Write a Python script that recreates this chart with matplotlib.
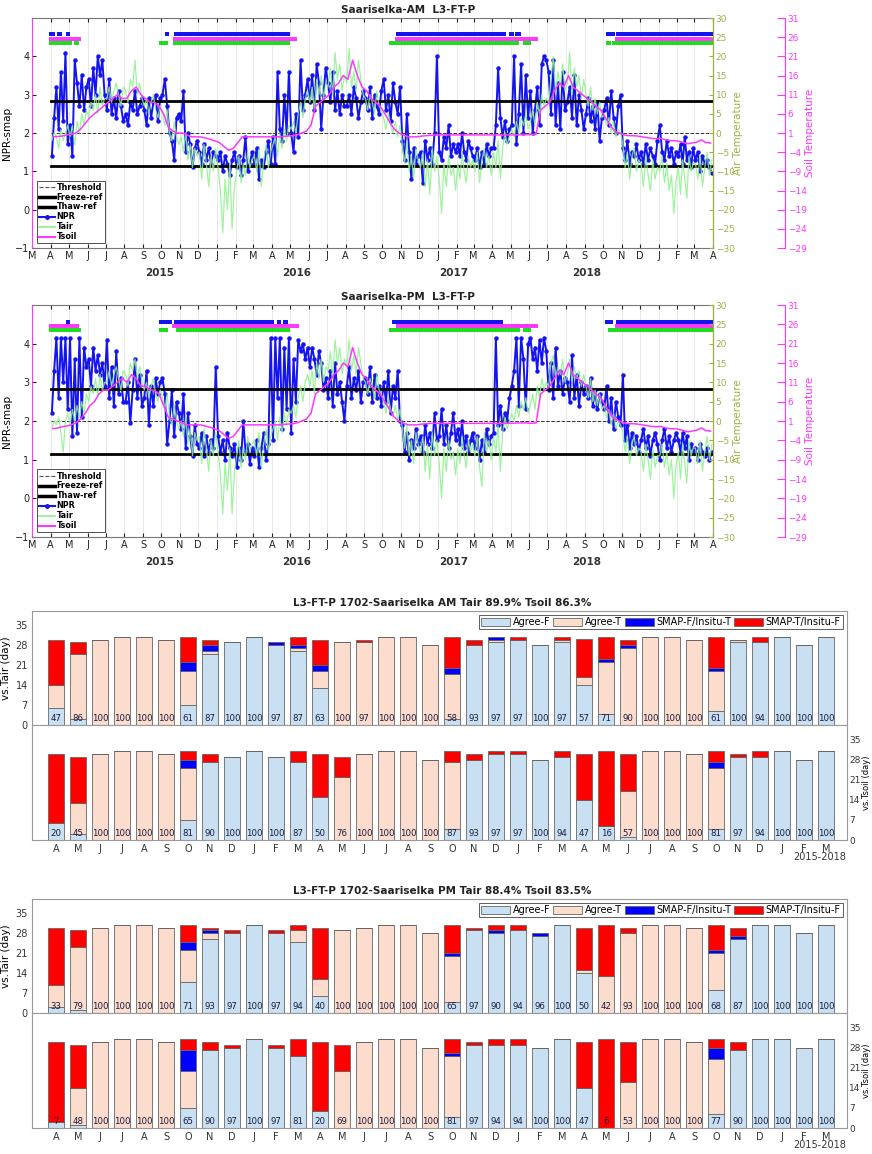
import numpy as np
import pandas as pd
import matplotlib
matplotlib.use('Agg')
import matplotlib.pyplot as plt
import matplotlib.dates as mdates
from matplotlib.lines import Line2D
from matplotlib.ticker import FuncFormatter

W, H = 872, 1154
fig = plt.figure(figsize=(W / 100, H / 100), dpi=100)
plt.rcParams['font.family'] = ['DejaVu Sans']


def rect(l, t, r, b):
    # pixel box -> figure fraction
    return [l / W, 1 - b / H, (r - l) / W, (b - t) / H]


# ---------------- time series data (Apr 2015 .. Mar 2018, one row per month) ----------------
FIRST_MONTH = '2015-04-01'
freeze_ref = 1.15
thaw_ref = 2.83
threshold = 2.0

am_npr = [
    [1.4, 2.4, 3.2, 2.1, 3.6, 2.3, 4.1, 1.7], [2.2, 1.4, 3.9, 3.3, 2.7, 3.5, 2.6, 3.2],
    [3.4, 2.7, 3.7, 3.0, 4.0, 3.5, 3.9, 3.0], [2.6, 3.4, 2.5, 2.9, 2.4, 3.1, 2.7, 2.3],
    [2.5, 2.2, 2.8, 2.6, 3.1, 2.5, 2.7, 2.9], [2.6, 2.2, 2.9, 2.4, 2.8, 3.0, 2.3, 2.9],
    [3.0, 3.4, 2.7, 2.0, 1.8, 1.3, 2.4, 2.5], [2.3, 3.1, 1.5, 2.0, 1.7, 1.1, 1.6, 1.8],
    [1.5, 1.2, 1.7, 1.3, 1.6, 1.2, 1.5, 1.4], [1.3, 1.5, 1.0, 1.4, 1.2, 0.9, 1.3, 1.5],
    [1.1, 1.4, 0.9, 1.3, 1.9, 1.0, 1.2, 1.5], [1.2, 1.6, 0.8, 1.3, 1.1, 1.5, 1.8, 1.2],
    [1.9, 1.2, 3.6, 2.1, 1.8, 3.0, 2.0, 3.6], [2.0, 1.5, 2.5, 1.9, 3.9, 2.6, 3.0, 3.4],
    [2.8, 3.5, 2.6, 3.8, 3.3, 2.1, 3.0, 3.7], [3.3, 2.8, 3.6, 2.6, 3.1, 2.5, 3.0, 2.7],
    [2.7, 3.0, 2.5, 3.2, 2.9, 2.4, 2.8, 3.1], [2.9, 2.6, 3.2, 2.4, 3.0, 2.7, 2.5, 3.1],
    [3.4, 2.6, 3.0, 2.3, 3.3, 2.8, 2.5, 3.2], [1.8, 1.3, 2.5, 1.5, 0.8, 1.6, 1.2, 1.4],
    [1.5, 0.7, 1.8, 1.3, 1.6, 1.2, 2.0, 4.0], [1.5, 1.3, 1.9, 1.6, 2.2, 1.4, 1.7, 1.5],
    [1.7, 1.4, 2.0, 1.5, 1.3, 1.8, 1.6, 1.4], [1.3, 1.6, 1.1, 1.5, 1.2, 1.7, 1.4, 1.6],
    [1.6, 2.2, 3.7, 2.4, 1.9, 2.3, 1.8, 2.1], [2.2, 4.0, 1.7, 2.5, 3.8, 2.0, 3.5, 2.4],
    [3.1, 2.0, 2.6, 3.2, 2.2, 3.8, 4.0, 3.9], [3.6, 2.5, 3.9, 2.2, 3.3, 2.1, 3.6, 2.6],
    [2.8, 3.2, 2.4, 3.5, 2.2, 3.0, 2.6, 2.1], [2.5, 2.9, 2.3, 2.7, 2.1, 2.8, 1.8, 2.4],
    [2.6, 2.9, 2.2, 3.1, 2.4, 2.0, 2.7, 3.0], [1.6, 1.3, 1.8, 1.2, 1.5, 1.4, 1.7, 1.3],
    [1.5, 1.2, 1.7, 1.3, 1.6, 1.4, 1.2, 1.8], [2.2, 1.5, 1.3, 1.8, 1.4, 1.6, 1.2, 1.5],
    [1.4, 1.7, 1.2, 1.9, 1.3, 1.5, 1.1, 1.6], [1.3, 1.5, 1.0, 1.4, 1.2, 1.3, 1.1, 0.95],
]
am_tair = [
    [-2, 0, -1, -4, 1, -2, 0, 2], [-1, 2, -3, 3, 0, 5, 2, 6], [4, 8, 6, 10, 5, 12, 7, 9],
    [9, 12, 8, 11, 13, 10, 7, 12], [11, 8, 14, 12, 19, 10, 13, 9], [7, 9, 5, 8, 10, 6, 4, 7],
    [5, 2, 6, 0, -2, 3, -1, -3], [-1, -5, 0, -7, -3, -9, -4, -6], [-5, -12, -3, -8, -14, -6, -10, -4],
    [-9, -15, -26, -12, -20, -8, -25, -14], [-10, -6, -13, -8, -11, -5, -9, -7], [-6, -10, -4, -14, -7, -3, -9, -5],
    [-3, -1, -6, 0, -4, 1, -2, 2], [1, 3, 0, 5, 8, 4, 9, 11], [8, 12, 6, 14, 10, 15, 9, 13],
    [12, 17, 10, 21, 14, 18, 11, 15], [13, 22, 12, 16, 11, 19, 14, 10], [9, 6, 10, 8, 5, 11, 7, 6],
    [4, 1, 5, 2, 0, 3, -1, 2], [-3, -8, -2, -10, -6, -12, -4, -7], [-9, -5, -14, -7, -16, -4, -10, -6],
    [-12, -21, -8, -14, -6, -11, -9, -15], [-8, -12, -5, -10, -13, -6, -9, -7], [-10, -5, -13, -7, -4, -9, -6, -11],
    [-5, -9, -2, -12, -4, 0, -3, -1], [1, -1, 3, 0, 4, 2, 5, 1], [3, 6, 2, 8, 5, 10, 7, 9],
    [8, 14, 20, 10, 16, 12, 18, 11], [13, 21, 10, 17, 12, 15, 9, 14], [10, 7, 12, 6, 9, 5, 8, 4],
    [5, 2, 4, 0, 3, -1, 1, 0], [-3, -9, -5, -12, -6, -4, -10, -7], [-8, -14, -6, -11, -15, -7, -12, -9],
    [-10, -6, -13, -8, -15, -11, -21, -12], [-9, -16, -7, -12, -17, -6, -10, -8], [-8, -12, -6, -14, -9, -5, -11, -7],
]
am_tsoil = [
    [0.0, 0.1, 0.2, 0.5], [0.6, 1.0, 2.0, 3.5], [5, 6, 7, 8], [9, 10, 11, 10], [10, 12, 13, 11],
    [10, 9, 9, 8], [6, 2.5, 1.5, 1.0], [1.0, 0.5, 0.0, 0.0], [0.0, -0.3, -0.6, -1.0],
    [-1.5, -2.5, -3.5, -3.0], [-1.5, 0.0, 0.0, 0.0], [0.0, 0.0, 0.0, 0.0], [0.0, 0.0, 0.1, 0.2],
    [0.3, 0.5, 1.0, 1.5], [3, 8, 9, 10], [11, 13, 14, 16], [15, 20, 16, 13], [12, 10, 9, 8],
    [6, 4, 2, 1], [0.5, 0.0, 0.0, 0.0], [0.2, 0.3, 0.4, 0.5], [0.5, 0.5, 0.5, 0.5],
    [0.5, 0.5, 0.5, 0.5], [0.5, 0.5, 0.5, 0.5], [0.5, 0.5, 0.5, 0.5], [0.5, 0.5, 0.6, 0.6],
    [0.6, 0.7, 7, 8], [9, 12, 14, 13], [16, 13, 12, 11], [10, 9, 8, 7], [5, 3, 1.5, 1.0],
    [0.5, 0.3, 0.3, 0.2], [0.0, -0.2, -0.4, -0.5], [-0.4, -0.8, -1.0, -1.0],
    [-1.2, -1.5, -1.8, -1.6], [-1.4, -0.8, -1.5, -1.6],
]

pm_npr = [
    [2.2, 3.3, 4.15, 2.6, 4.15, 3.0, 4.15, 2.3], [4.15, 1.6, 3.6, 1.7, 4.15, 2.1, 3.9, 3.4],
    [3.6, 2.9, 3.9, 3.3, 3.7, 3.2, 3.5, 2.9], [4.1, 2.6, 3.4, 2.4, 3.8, 2.7, 3.1, 2.5],
    [2.5, 3.0, 1.95, 2.8, 3.6, 2.6, 3.2, 2.4], [2.6, 3.3, 1.9, 2.9, 2.4, 3.1, 2.7, 3.0],
    [3.1, 2.7, 1.4, 2.0, 2.8, 1.6, 2.5, 2.2], [1.8, 2.7, 1.3, 2.2, 1.6, 1.1, 1.9, 1.4],
    [1.3, 1.7, 1.1, 1.6, 1.2, 1.5, 1.3, 3.4], [1.6, 1.2, 1.5, 1.0, 1.7, 1.3, 1.1, 1.4],
    [0.8, 1.3, 1.0, 2.0, 1.2, 1.4, 0.9, 1.3], [1.1, 1.5, 0.8, 1.3, 1.7, 1.0, 1.4, 4.15],
    [1.5, 4.15, 2.6, 4.15, 1.8, 3.9, 2.3, 4.15], [1.7, 3.6, 2.5, 4.1, 3.8, 4.0, 3.6, 3.9],
    [3.4, 3.9, 3.6, 3.2, 3.8, 3.5, 2.8, 3.1], [2.6, 3.3, 2.4, 3.5, 2.7, 3.0, 2.5, 2.0],
    [2.9, 3.4, 2.6, 3.1, 2.8, 3.3, 2.5, 3.0], [3.1, 2.7, 3.4, 2.5, 3.2, 2.6, 2.9, 2.4],
    [3.0, 2.5, 3.3, 2.2, 2.9, 2.6, 3.3, 2.0], [1.9, 1.2, 1.7, 1.0, 1.5, 1.3, 1.8, 1.4],
    [1.6, 1.2, 1.9, 1.4, 1.7, 1.3, 2.2, 1.5], [1.6, 2.3, 1.4, 1.9, 1.3, 1.7, 2.2, 1.5],
    [1.8, 1.4, 2.0, 1.3, 1.6, 1.2, 1.5, 1.7], [1.3, 1.6, 1.0, 1.5, 1.2, 1.8, 1.4, 1.6],
    [1.7, 4.15, 1.9, 2.4, 1.8, 2.2, 2.0, 2.6], [2.9, 3.3, 4.15, 2.4, 4.15, 3.6, 2.3, 4.0],
    [4.15, 3.6, 3.9, 3.3, 4.1, 3.5, 4.15, 3.8], [2.8, 3.5, 2.6, 3.9, 2.9, 3.3, 2.7, 3.1],
    [3.0, 2.5, 3.7, 2.6, 3.2, 2.4, 3.0, 2.7], [2.9, 2.6, 3.1, 2.4, 2.8, 2.3, 2.7, 2.5],
    [2.3, 2.9, 2.0, 2.6, 1.8, 2.5, 2.1, 1.9], [3.2, 1.5, 1.9, 1.3, 1.7, 1.4, 1.6, 1.2],
    [1.5, 1.8, 1.3, 1.6, 1.1, 1.5, 1.7, 1.4], [1.0, 1.5, 1.8, 1.3, 1.6, 1.2, 1.5, 1.7],
    [1.5, 1.2, 1.7, 1.3, 1.6, 1.0, 1.4, 1.2], [1.3, 1.0, 1.4, 1.2, 1.1, 1.3, 1.0, 1.2],
]
pm_tair = [
    [-2, 0, -1, 1, -3, -8, 0, 2], [-1, 3, 0, 4, 1, 5, 2, 7], [5, 9, 7, 11, 6, 12, 8, 10],
    [10, 13, 9, 12, 14, 11, 8, 13], [12, 9, 15, 13, 16, 11, 14, 10], [8, 10, 6, 9, 11, 7, 5, 8],
    [6, 3, 7, 1, -1, 4, 0, -2], [0, -4, 1, -6, -2, -9, -3, -5], [-4, -11, -2, -7, -13, -5, -9, -3],
    [-8, -14, -24, -11, -18, -7, -24, -13], [-9, -5, -12, -7, -10, -4, -8, -6], [-5, -9, -3, -12, -6, -2, -8, -4],
    [-2, 0, -5, 1, -3, 2, -1, 3], [2, 4, 1, 6, 9, 5, 10, 12], [9, 13, 7, 15, 11, 16, 10, 14],
    [13, 18, 11, 21, 15, 19, 12, 16], [14, 21, 13, 17, 12, 19, 15, 11], [10, 7, 11, 9, 6, 12, 8, 7],
    [5, 2, 6, 3, 1, 4, 0, 3], [-2, -7, -1, -9, -5, -11, -3, -6], [-8, -4, -13, -6, -15, -3, -9, -5],
    [-11, -20, -7, -13, -5, -10, -8, -14], [-7, -11, -4, -9, -12, -5, -8, -6], [-9, -4, -12, -17, -3, -8, -5, -10],
    [-4, -8, -1, -13, -3, 1, -2, 0], [2, 0, 4, 1, 5, 3, 6, 2], [4, 7, 3, 9, 6, 11, 8, 10],
    [9, 15, 17, 11, 14, 12, 16, 10], [12, 16, 10, 14, 11, 13, 9, 12], [9, 6, 11, 5, 8, 4, 7, 3],
    [4, 1, 3, -1, 2, -2, 0, -1], [-3, -8, -4, -11, -6, -4, -9, -7], [-8, -13, -6, -10, -15, -7, -12, -9],
    [-9, -6, -12, -8, -14, -10, -20, -11], [-8, -15, -6, -11, -16, -5, -9, -7], [-7, -11, -5, -13, -8, -4, -10, -6],
]
pm_tsoil = [
    [-1.0, -0.8, -0.5, -0.3], [0.0, 0.5, 1.5, 3.0], [5, 6, 8, 9], [9, 10, 11, 12], [11, 13, 12, 10],
    [10, 9, 9, 8], [5, 2, 1.5, 1.0], [0.5, 0.0, 0.0, 0.0], [0.0, -0.3, -0.6, -1.0],
    [-1.5, -2.5, -3.5, -3.0], [-1.5, 0.0, 0.0, 0.0], [0.0, 0.0, 0.0, 0.0], [0.0, 0.0, 0.1, 0.2],
    [0.3, 0.5, 1.0, 1.5], [3, 8, 9, 10], [11, 13, 14, 16], [15, 20, 16, 13], [12, 10, 9, 8],
    [6, 4, 2, 1], [0.5, 0.0, 0.0, 0.0], [0.2, 0.3, 0.4, 0.4], [0.4, 0.4, 0.4, 0.4],
    [0.4, 0.4, 0.4, 0.4], [0.4, 0.4, 0.4, 0.4], [0.4, 0.4, 0.4, 0.4], [0.4, 0.5, 0.5, 0.5],
    [0.4, 0.5, 8, 9], [10, 12, 14, 13], [16, 13, 12, 11], [10, 9, 8, 7], [5, 3, 1.5, 1.0],
    [0.5, 0.3, 0.3, 0.2], [0.0, -0.2, -0.4, -0.5], [-0.4, -0.8, -1.0, -1.0],
    [-1.2, -1.5, -1.8, -1.6], [-1.4, -0.8, -1.5, -1.6],
]

# frozen-flag periods (start, end) for NPR / Tsoil / Tair rows
am_flags_npr = [('2015-04-01', '2015-04-04'), ('2015-04-15', '2015-04-16'), ('2015-04-29', '2015-04-30'),
                ('2015-10-10', '2015-10-11'), ('2015-10-26', '2016-04-10'), ('2016-04-14', '2016-04-20'),
                ('2016-04-24', '2016-04-28'), ('2016-10-27', '2017-04-02'), ('2017-04-06', '2017-04-20'),
                ('2017-05-01', '2017-05-03'), ('2017-05-12', '2017-05-15'), ('2017-10-10', '2017-10-11'),
                ('2017-10-17', '2017-10-18'), ('2017-10-25', '2018-04-01')]
am_flags_tsoil = [('2015-04-01', '2015-05-18'), ('2015-10-24', '2016-05-10'),
                  ('2016-10-25', '2017-06-12'), ('2017-10-24', '2018-04-01')]
am_flags_tair = [('2015-04-01', '2015-04-20'), ('2015-04-24', '2015-05-03'), ('2015-05-12', '2015-05-15'),
                 ('2015-10-01', '2015-10-08'), ('2015-10-24', '2016-04-28'), ('2016-10-15', '2016-10-16'),
                 ('2016-10-20', '2016-10-21'), ('2016-10-25', '2017-05-12'), ('2017-05-25', '2017-05-27'),
                 ('2017-05-30', '2017-06-01'), ('2017-10-10', '2017-10-11'), ('2017-10-19', '2018-04-01')]
pm_flags_npr = [('2015-04-29', '2015-04-30'), ('2015-10-01', '2015-10-03'), ('2015-10-08', '2015-10-09'),
                ('2015-10-14', '2015-10-16'), ('2015-10-26', '2016-03-25'), ('2016-03-31', '2016-04-02'),
                ('2016-04-12', '2016-04-13'), ('2016-04-22', '2016-04-24'), ('2016-10-20', '2016-10-21'),
                ('2016-10-27', '2017-04-01'), ('2017-04-05', '2017-04-07'), ('2017-04-11', '2017-04-15'),
                ('2017-10-08', '2017-10-09'), ('2017-10-13', '2017-10-14'), ('2017-10-25', '2018-04-01')]
pm_flags_tsoil = [('2015-04-01', '2015-05-15'), ('2015-10-22', '2016-05-12'),
                  ('2016-10-27', '2017-06-12'), ('2017-10-24', '2018-04-01')]
pm_flags_tair = [('2015-04-01', '2015-04-22'), ('2015-04-26', '2015-05-08'), ('2015-05-14', '2015-05-17'),
                 ('2015-10-01', '2015-10-08'), ('2015-10-28', '2016-04-28'), ('2016-10-15', '2017-05-14'),
                 ('2017-05-25', '2017-06-01'), ('2017-10-13', '2018-04-01')]

# ---------------- monthly agreement bars (Apr 2015 .. Mar 2018) ----------------
bar_months = list('AMJJASONDJFMAMJJASONDJFMAMJJASONDJFM')
bar_names = ['Agree-F', 'Agree-T', 'SMAP-F/Insitu-T', 'SMAP-T/Insitu-F']
bar_colors = ['#c9e0f2', '#fbdccd', '#0000ff', '#ff0000']

am_tair_agree_f = [6, 2, 0, 0, 0, 0, 7, 25, 29, 31, 28, 26, 13, 0, 0, 0, 0, 0, 2, 28, 29, 30, 28, 29, 14, 4, 0, 0, 0, 0, 5, 29, 29, 31, 28, 31]
am_tair_agree_t = [8, 23, 30, 31, 31, 30, 12, 1, 0, 0, 0, 1, 6, 29, 29, 31, 31, 28, 16, 0, 1, 0, 0, 1, 3, 18, 27, 31, 31, 30, 14, 1, 0, 0, 0, 0]
am_tair_smap_f = [0, 0, 0, 0, 0, 0, 3, 2, 0, 0, 1, 1, 2, 0, 0, 0, 0, 0, 2, 0, 1, 0, 0, 0, 0, 1, 1, 0, 0, 0, 1, 0, 0, 0, 0, 0]
am_tair_smap_t = [16, 4, 0, 0, 0, 0, 9, 2, 0, 0, 0, 3, 9, 0, 1, 0, 0, 0, 11, 2, 0, 1, 0, 1, 13, 8, 2, 0, 0, 0, 11, 0, 2, 0, 0, 0]
am_tair_pct = [47, 86, 100, 100, 100, 100, 61, 87, 100, 100, 97, 87, 63, 100, 97, 100, 100, 100, 58, 93, 97, 97, 100, 97, 57, 71, 90, 100, 100, 100, 61, 100, 94, 100, 100, 100]

am_tsoil_agree_f = [6, 2, 0, 0, 0, 0, 7, 27, 29, 31, 29, 27, 15, 0, 0, 0, 0, 0, 4, 28, 30, 30, 28, 29, 14, 5, 1, 0, 0, 0, 4, 29, 29, 31, 28, 31]
am_tsoil_agree_t = [0, 11, 30, 31, 31, 30, 18, 0, 0, 0, 0, 0, 0, 22, 30, 31, 31, 28, 23, 0, 0, 0, 0, 0, 0, 0, 16, 31, 31, 30, 21, 0, 0, 0, 0, 0]
am_tsoil_smap_f = [0, 0, 0, 0, 0, 0, 3, 0, 0, 0, 0, 0, 0, 0, 0, 0, 0, 0, 0, 0, 0, 0, 0, 0, 0, 0, 0, 0, 0, 0, 2, 0, 0, 0, 0, 0]
am_tsoil_smap_t = [24, 16, 0, 0, 0, 0, 3, 3, 0, 0, 0, 4, 15, 7, 0, 0, 0, 0, 4, 2, 1, 1, 0, 2, 16, 26, 13, 0, 0, 0, 4, 1, 2, 0, 0, 0]
am_tsoil_pct = [20, 45, 100, 100, 100, 100, 81, 90, 100, 100, 100, 87, 50, 76, 100, 100, 100, 100, 87, 93, 97, 97, 100, 94, 47, 16, 57, 100, 100, 100, 81, 97, 94, 100, 100, 100]

pm_tair_agree_f = [2, 1, 0, 0, 0, 0, 11, 26, 28, 31, 28, 25, 6, 0, 0, 0, 0, 0, 4, 29, 28, 29, 27, 31, 14, 0, 0, 0, 0, 0, 8, 26, 31, 31, 28, 31]
pm_tair_agree_t = [8, 22, 30, 31, 31, 30, 11, 2, 0, 0, 0, 4, 6, 29, 30, 31, 31, 28, 16, 0, 0, 0, 0, 0, 1, 13, 28, 31, 31, 30, 13, 0, 0, 0, 0, 0]
pm_tair_smap_f = [0, 0, 0, 0, 0, 0, 3, 1, 0, 0, 0, 0, 0, 0, 0, 0, 0, 0, 1, 0, 1, 0, 1, 0, 0, 0, 0, 0, 0, 0, 1, 1, 0, 0, 0, 0]
pm_tair_smap_t = [20, 6, 0, 0, 0, 0, 6, 1, 1, 0, 1, 2, 18, 0, 0, 0, 0, 0, 10, 1, 2, 2, 0, 0, 15, 18, 2, 0, 0, 0, 9, 3, 0, 0, 0, 0]
pm_tair_pct = [33, 79, 100, 100, 100, 100, 71, 93, 97, 100, 97, 94, 40, 100, 100, 100, 100, 100, 65, 97, 90, 94, 96, 100, 50, 42, 93, 100, 100, 100, 68, 87, 100, 100, 100, 100]

pm_tsoil_agree_f = [2, 1, 0, 0, 0, 0, 7, 27, 28, 31, 28, 25, 6, 0, 0, 0, 0, 0, 4, 29, 29, 29, 28, 31, 14, 0, 0, 0, 0, 0, 5, 27, 31, 31, 28, 31]
pm_tsoil_agree_t = [0, 13, 30, 31, 31, 30, 13, 0, 0, 0, 0, 0, 0, 20, 30, 31, 31, 28, 21, 0, 0, 0, 0, 0, 0, 0, 16, 31, 31, 30, 19, 0, 0, 0, 0, 0]
pm_tsoil_smap_f = [0, 0, 0, 0, 0, 0, 7, 0, 0, 0, 0, 0, 0, 0, 0, 0, 0, 0, 1, 0, 0, 0, 0, 0, 0, 0, 0, 0, 0, 0, 4, 0, 0, 0, 0, 0]
pm_tsoil_smap_t = [28, 15, 0, 0, 0, 0, 4, 3, 1, 0, 1, 6, 24, 9, 0, 0, 0, 0, 5, 1, 2, 2, 0, 0, 16, 31, 14, 0, 0, 0, 3, 3, 0, 0, 0, 0]
pm_tsoil_pct = [7, 48, 100, 100, 100, 100, 65, 90, 97, 100, 97, 81, 20, 69, 100, 100, 100, 100, 81, 97, 94, 94, 100, 100, 47, 6, 53, 100, 100, 100, 77, 90, 100, 100, 100, 100]

year_label_dates = [('2015', '2015-09-28'), ('2016', '2016-05-12'), ('2017', '2017-01-27'), ('2018', '2017-09-04')]

BLUE = '#1414f0'
GREEN = '#8ef28e'
FLAG_GREEN = '#1edc1e'
MAGENTA = '#ff38ff'
OLIVE = '#a4ae46'
FRAME = '#777777'


def month_times(per_month, n_months):
    start = pd.Timestamp(FIRST_MONTH)
    out = []
    for i in range(n_months):
        s = start + pd.DateOffset(months=i)
        e = start + pd.DateOffset(months=i + 1)
        for k in range(per_month):
            out.append(s + (e - s) * (k + 0.5) / per_month)
    return pd.DatetimeIndex(out)


def flag_days(periods):
    return pd.DatetimeIndex(np.concatenate([pd.date_range(a, b, freq='D').values for a, b in periods]))


def month_letter(x, pos):
    return mdates.num2date(x).strftime('%b')[0]


def draw_series(top, bottom, title, npr, tair, tsoil, flags):
    ax = fig.add_axes(rect(32, top, 713, bottom))
    ax_air = ax.twinx()
    ax_soil = ax.twinx()

    t_npr = month_times(len(npr[0]), len(npr))
    t_tair = month_times(len(tair[0]), len(tair))
    t_soil = month_times(len(tsoil[0]), len(tsoil))
    t0 = pd.Timestamp(FIRST_MONTH)
    t1 = t0 + pd.DateOffset(months=len(npr))

    ax.plot(t_npr, np.concatenate(npr), '-o', color=BLUE, lw=1.4, ms=2.2, zorder=3)
    ax.plot([t0, t1], [threshold] * 2, '--', color='#333333', lw=0.7, zorder=4)
    ax.plot([t0, t1], [freeze_ref] * 2, '-', color='black', lw=2.0, zorder=4)
    ax.plot([t0, t1], [thaw_ref] * 2, '-', color='black', lw=2.0, zorder=4)
    for periods, y, col in zip(flags, (4.57, 4.45, 4.35), (BLUE, MAGENTA, FLAG_GREEN)):
        d = flag_days(periods)
        ax.plot(d, np.full(len(d), y), 's', color=col, ms=2.6, mew=0, zorder=3)

    ax_air.plot(t_tair, np.concatenate(tair), '-', color=GREEN, lw=0.9, alpha=0.85)
    ax_soil.plot(t_soil, np.concatenate(tsoil), '-', color=MAGENTA, lw=1.1)

    ax.set_xlim(pd.Timestamp('2015-03-01'), t1)
    ax.set_ylim(-1, 5)
    ax.set_yticks(range(-1, 5))
    ax.set_ylabel('NPR-smap', fontsize=7.5, labelpad=2)
    ax.xaxis.set_major_locator(mdates.MonthLocator())
    ax.xaxis.set_major_formatter(FuncFormatter(month_letter))
    ax.grid(axis='x', color='#e4e4e4', lw=0.6)
    ax.tick_params(labelsize=7, direction='in', length=3, top=True, pad=2, colors='#222222')
    for s in ('top', 'bottom', 'right'):
        ax.spines[s].set_color(FRAME)
    ax.spines['left'].set_color(MAGENTA)
    for lab, d in year_label_dates:
        ax.text(pd.Timestamp(d), -0.085, lab, transform=ax.get_xaxis_transform(),
                ha='center', va='top', fontsize=7.5, fontweight='bold', color='#333333')

    ax_air.set_ylim(-30, 30)
    ax_air.set_yticks(range(-30, 31, 5))
    ax_air.tick_params(labelsize=6.5, direction='in', length=3, colors=OLIVE, pad=2)
    ax_air.spines['right'].set_color(OLIVE)
    for s in ('top', 'bottom', 'left'):
        ax_air.spines[s].set_visible(False)
    ax_air.set_ylabel('Air Temperature', color=OLIVE, fontsize=7.5, labelpad=-1)

    ax_soil.set_ylim(-29, 31)
    ax_soil.set_yticks(range(-29, 32, 5))
    ax_soil.spines['right'].set_position(('axes', (785 - 32) / (713 - 32)))
    ax_soil.spines['right'].set_color(MAGENTA)
    for s in ('top', 'bottom', 'left'):
        ax_soil.spines[s].set_visible(False)
    ax_soil.tick_params(labelsize=6.5, direction='in', length=6, colors=MAGENTA, pad=2)
    ax_soil.set_ylabel('Soil Temperature', color=MAGENTA, fontsize=7.5, labelpad=-1)

    handles = [Line2D([], [], ls='--', color='#555555', lw=0.8),
               Line2D([], [], color='black', lw=2.5),
               Line2D([], [], color='black', lw=2.5),
               Line2D([], [], color=BLUE, lw=1.5, marker='o', ms=2.5),
               Line2D([], [], color=GREEN, lw=1.2),
               Line2D([], [], color=MAGENTA, lw=1.5)]
    leg = ax_soil.legend(handles, ['Threshold', 'Freeze-ref', 'Thaw-ref', 'NPR', 'Tair', 'Tsoil'],
                         loc='lower left', bbox_to_anchor=(0.007, 0.02),
                         prop={'weight': 'bold', 'size': 5.8}, frameon=True, fancybox=False,
                         edgecolor='#333333', framealpha=1, borderpad=0.25, labelspacing=0.12,
                         handlelength=2.0, handletextpad=0.2, borderaxespad=0)
    leg.get_frame().set_linewidth(0.6)
    fig.text(408 / W, 1 - (top - 8) / H, title, ha='center', va='center',
             fontsize=7.5, fontweight='bold', color='#222222')


def draw_bars(top, mid, bottom, title, tair_parts, tsoil_parts, tair_pct, tsoil_pct):
    right = 847
    ax1 = fig.add_axes(rect(32, top, right, mid))
    ax2 = fig.add_axes(rect(32, mid, right, bottom))
    x = np.arange(1, len(bar_months) + 1)
    for ax, parts, pct in ((ax1, tair_parts, tair_pct), (ax2, tsoil_parts, tsoil_pct)):
        base = np.zeros(len(x))
        for vals, col, name in zip(parts, bar_colors, bar_names):
            vals = np.array(vals, dtype=float)
            ax.bar(x, vals, 0.75, bottom=base, color=col, edgecolor='#666666', lw=0.6, label=name)
            base += vals
        for xi, p in zip(x, pct):
            ax.text(xi, 0.7, str(p), ha='center', va='bottom', fontsize=6.2, color='#1a1a40')
        ax.set_xlim(-0.1, 36.95)
        ax.set_ylim(0, 40)
        ax.set_yticks(range(0, 36, 7))
        ax.tick_params(labelsize=7, length=0, pad=3, colors='#333333')
        for s in ax.spines.values():
            s.set_color('#999999')
    ax1.set_xticks([])
    ax1.set_ylabel('vs.Tair (day)', fontsize=7.5, labelpad=3)
    ax2.set_xticks(x)
    ax2.set_xticklabels(bar_months)
    ax2.yaxis.tick_right()
    ax2.yaxis.set_label_position('right')
    ax2.tick_params(axis='y', pad=1.5, labelsize=6.5)
    ax2.set_ylabel('vs.Tsoil (day)', fontsize=6, labelpad=1)
    leg = ax1.legend(loc='upper right', ncol=4, fontsize=7, frameon=True, fancybox=False,
                     edgecolor='#444444', framealpha=1, borderpad=0.2, handlelength=3.0,
                     handleheight=0.9, handletextpad=0.25, columnspacing=0.3, borderaxespad=0.45)
    leg.get_frame().set_linewidth(0.6)
    fig.text(442 / W, 1 - (top - 8) / H, title, ha='center', va='center',
             fontsize=7.5, fontweight='bold', color='#222222')
    fig.text(820 / W, 1 - (bottom + 17) / H, '2015-2018', ha='center', va='center',
             fontsize=7, color='#333333')


draw_series(18, 248, 'Saariselka-AM  L3-FT-P', am_npr, am_tair, am_tsoil,
            (am_flags_npr, am_flags_tsoil, am_flags_tair))
draw_series(305, 537, 'Saariselka-PM  L3-FT-P', pm_npr, pm_tair, pm_tsoil,
            (pm_flags_npr, pm_flags_tsoil, pm_flags_tair))
draw_bars(611, 725, 840, 'L3-FT-P 1702-Saariselka AM Tair 89.9% Tsoil 86.3%',
          (am_tair_agree_f, am_tair_agree_t, am_tair_smap_f, am_tair_smap_t),
          (am_tsoil_agree_f, am_tsoil_agree_t, am_tsoil_smap_f, am_tsoil_smap_t),
          am_tair_pct, am_tsoil_pct)
draw_bars(899, 1013, 1128, 'L3-FT-P 1702-Saariselka PM Tair 88.4% Tsoil 83.5%',
          (pm_tair_agree_f, pm_tair_agree_t, pm_tair_smap_f, pm_tair_smap_t),
          (pm_tsoil_agree_f, pm_tsoil_agree_t, pm_tsoil_smap_f, pm_tsoil_smap_t),
          pm_tair_pct, pm_tsoil_pct)

fig.savefig('out.png', dpi=100)
